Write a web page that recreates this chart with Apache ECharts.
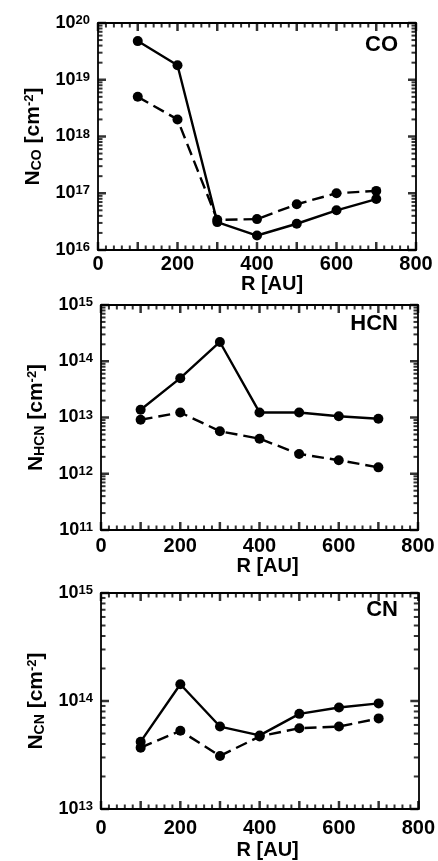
<!DOCTYPE html>
<html>
<head>
<meta charset="utf-8">
<script src="https://cdn.jsdelivr.net/npm/echarts@6/dist/echarts.min.js"></script>
<style>
  html, body { margin: 0; padding: 0; background: #fff; }
  #chart { width: 438px; height: 861px; }
</style>
</head>
<body>
<div id="chart"></div>
<script>
// radius values (AU)
const rValues = [100, 200, 300, 400, 500, 600, 700];

// column densities, cm^-2
const coSolid   = [4.8e19, 1.8e19, 3.1e16, 1.8e16, 2.9e16, 5.0e16, 7.9e16];
const coDashed  = [5.0e18, 2.0e18, 3.4e16, 3.5e16, 6.4e16, 1.0e17, 1.1e17];
const hcnSolid  = [1.37e13, 5.0e13, 2.2e14, 1.23e13, 1.23e13, 1.05e13, 9.5e12];
const hcnDashed = [9.1e12, 1.23e13, 5.7e12, 4.2e12, 2.25e12, 1.74e12, 1.3e12];
const cnSolid   = [4.2e13, 1.43e14, 5.8e13, 4.8e13, 7.6e13, 8.7e13, 9.5e13];
const cnDashed  = [3.7e13, 5.3e13, 3.1e13, 4.7e13, 5.6e13, 5.8e13, 6.9e13];

const molecules = ['CO', 'HCN', 'CN'];
const yRanges = [[1e16, 1e20], [1e11, 1e15], [1e13, 1e15]];
const xRange = [0, 800];
const xTickStep = 100;
const xMinorStep = 20;
const xLabelStep = 200;

var FONT = 'Liberation Sans, Arial, Helvetica, sans-serif';
var INK = '#000';
var WEIGHT = 'bold';

var dom = document.getElementById('chart');
var myChart = echarts.init(dom, null, { renderer: 'canvas' });

var grids = [
  { left: 98,  top: 23,  width: 318, height: 227 },
  { left: 101, top: 305, width: 317, height: 225 },
  { left: 101, top: 593, width: 318, height: 225 }
];
var nameShift = [30, 16, 16];
var labelMargin = [4, 6, 9];
var xNameGap = [21, 23, 31];
var titleTop = [34, 313, 599];

var panels = [
  [coSolid, coDashed],
  [hcnSolid, hcnDashed],
  [cnSolid, cnDashed]
];

// y tick values on a log range: [value, isMinor]
function yTickValues(range) {
  var out = [];
  var lo = Math.round(Math.log10(range[0]));
  var hi = Math.round(Math.log10(range[1]));
  for (var e = lo; e <= hi; e++) {
    out.push([Math.pow(10, e), 0]);
    if (e === hi) break;
    for (var m = 2; m <= 9; m++) out.push([m * Math.pow(10, e), 1]);
  }
  return out;
}
function xTickValues() {
  var out = [];
  for (var x = xRange[0]; x <= xRange[1]; x += xMinorStep) out.push([x, x % xTickStep === 0 ? 0 : 1]);
  return out;
}

function pairs(ys) {
  return rValues.map(function (r, i) { return [r, ys[i]]; });
}

// a scatter series of short bars used as inward frame ticks
function tickSeries(xi, yi, data, vertical, dir) {
  return {
    type: 'scatter', xAxisIndex: xi, yAxisIndex: yi, silent: true, z: 5,
    clip: false, symbol: 'rect',
    itemStyle: { color: INK },
    data: data.map(function (d) {
      var len = d.minor ? 4.5 : 8;
      var w = d.minor ? 2 : 2.5;
      return {
        value: d.value,
        symbolSize: vertical ? [w, len] : [len, w],
        symbolOffset: vertical ? [0, dir * len / 2] : [dir * len / 2, 0]
      };
    })
  };
}

var xAxes = [], yAxes = [], series = [], titles = [];

grids.forEach(function (g, i) {
  var axLine = { show: true, onZero: false, lineStyle: { color: INK, width: 1.8 } };
  var yr = yRanges[i];

  xAxes.push({
    type: 'value', gridIndex: i, position: 'bottom',
    min: xRange[0], max: xRange[1], interval: xTickStep,
    axisLine: axLine, axisTick: { show: false },
    splitLine: { show: false },
    axisLabel: {
      margin: labelMargin[i], color: INK, fontFamily: FONT, fontSize: 20, fontWeight: WEIGHT,
      formatter: function (v) { return v % xLabelStep === 0 ? String(v) : ''; }
    },
    name: 'R [AU]', nameLocation: 'middle', nameGap: xNameGap[i],
    nameTextStyle: {
      color: INK, fontFamily: FONT, fontSize: 20, fontWeight: WEIGHT,
      padding: [0, 0, 0, nameShift[i]]
    }
  });
  xAxes.push({
    type: 'value', gridIndex: i, position: 'top',
    min: xRange[0], max: xRange[1], interval: xTickStep,
    axisLine: axLine, axisTick: { show: false },
    splitLine: { show: false }, axisLabel: { show: false }
  });

  yAxes.push({
    type: 'log', logBase: 10, gridIndex: i, position: 'left',
    min: yr[0], max: yr[1],
    axisLine: axLine, axisTick: { show: false },
    splitLine: { show: false },
    axisLabel: {
      margin: 8, color: INK, fontFamily: FONT,
      formatter: function (v) {
        return '{b|10}{s|' + Math.round(Math.log10(v)) + '}';
      },
      rich: {
        b: { fontFamily: FONT, fontSize: 18, fontWeight: WEIGHT, color: INK, lineHeight: 18 },
        s: { fontFamily: FONT, fontSize: 13, fontWeight: WEIGHT, color: INK, lineHeight: 13, verticalAlign: 'top' }
      }
    },
    name: '{n|N}{sub|' + molecules[i] + '}{n| [cm}{sup|-2}{n|]}',
    nameLocation: 'middle', nameRotate: 90, nameGap: 52,
    nameTextStyle: {
      rich: {
        n: { fontFamily: FONT, fontSize: 21, fontWeight: WEIGHT, color: INK, lineHeight: 22 },
        sub: { fontFamily: FONT, fontSize: 14, fontWeight: WEIGHT, color: INK, lineHeight: 14, verticalAlign: 'bottom' },
        sup: { fontFamily: FONT, fontSize: 13, fontWeight: WEIGHT, color: INK, lineHeight: 13, verticalAlign: 'top' }
      }
    }
  });
  yAxes.push({
    type: 'log', logBase: 10, gridIndex: i, position: 'right',
    min: yr[0], max: yr[1],
    axisLine: axLine, axisTick: { show: false },
    splitLine: { show: false }, axisLabel: { show: false }
  });

  var xi = i * 2, yi = i * 2;
  var sData = panels[i];
  series.push({
    type: 'line', xAxisIndex: xi, yAxisIndex: yi, z: 3,
    data: pairs(sData[0]), symbol: 'circle', symbolSize: 10,
    itemStyle: { color: INK }, lineStyle: { color: INK, width: 2.4, type: 'solid' }
  });
  series.push({
    type: 'line', xAxisIndex: xi, yAxisIndex: yi, z: 3,
    data: pairs(sData[1]), symbol: 'circle', symbolSize: 10,
    itemStyle: { color: INK }, lineStyle: { color: INK, width: 2.4, type: [12, 6] }
  });

  // frame ticks: bottom, top, left, right (all pointing inward)
  var xt = xTickValues(), yt = yTickValues(yr);
  series.push(tickSeries(xi, yi, xt.map(function (t) { return { value: [t[0], yr[0]], minor: t[1] }; }), true, -1));
  series.push(tickSeries(xi, yi, xt.map(function (t) { return { value: [t[0], yr[1]], minor: t[1] }; }), true, 1));
  series.push(tickSeries(xi, yi, yt.map(function (t) { return { value: [xRange[0], t[0]], minor: t[1] }; }), false, 1));
  series.push(tickSeries(xi, yi, yt.map(function (t) { return { value: [xRange[1], t[0]], minor: t[1] }; }), false, -1));

  titles.push({
    text: molecules[i], right: 40, top: titleTop[i], padding: 0,
    textStyle: { fontFamily: FONT, fontSize: 22, fontWeight: WEIGHT, color: INK }
  });
});

var option = {
  backgroundColor: '#fff',
  animation: false,
  title: titles,
  grid: grids,
  xAxis: xAxes,
  yAxis: yAxes,
  series: series
};

myChart.setOption(option);
window.addEventListener('resize', myChart.resize);
</script>
</body>
</html>
